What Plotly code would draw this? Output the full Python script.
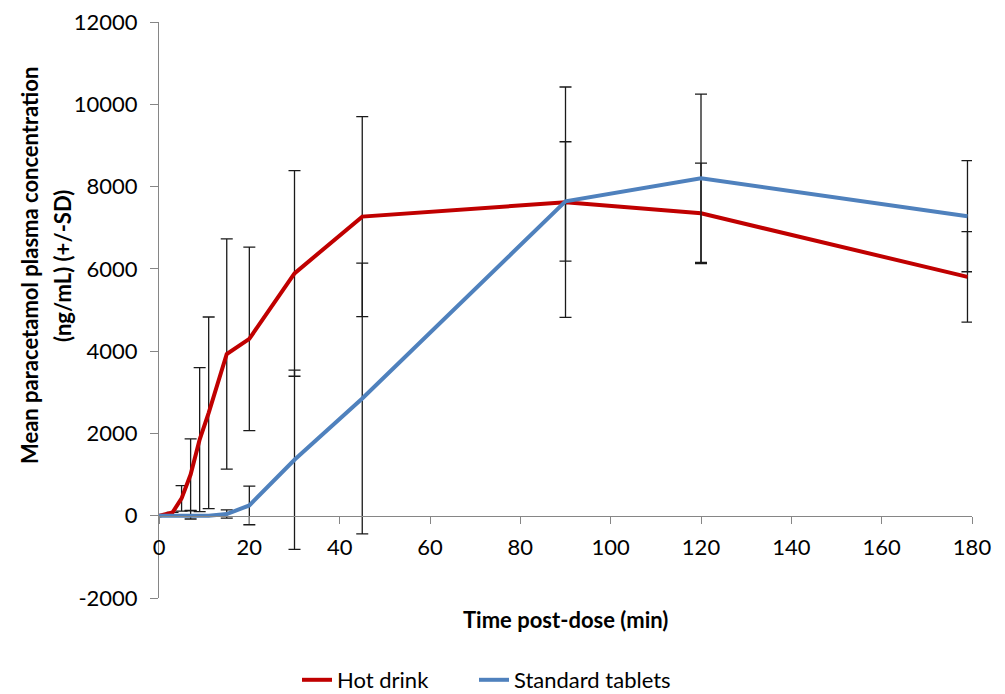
import plotly.graph_objects as go

# Data
hot_time = [0, 3, 5, 7, 9, 11, 15, 20, 30, 45, 90, 120, 179]
hot_mean = [0, 80, 420, 1000, 1850, 2500, 3930, 4300, 5890, 7270, 7620, 7350, 5805]
hot_sd = [None, None, 310, 870, 1750, 2330, 2800, 2230, 2500, 2430, 2800, 1220, 1100]

tab_time = [0, 3, 5, 7, 9, 11, 15, 20, 30, 45, 90, 120, 179]
tab_mean = [0, 0, 0, 20, 0, 0, 40, 250, 1360, 2850, 7640, 8200, 7280]
tab_sd = [None, None, None, 100, None, None, 100, 470, 2180, 3290, 1450, 2045, 1350]

x_ticks = [0, 20, 40, 60, 80, 100, 120, 140, 160, 180]
y_ticks = [-2000, 0, 2000, 4000, 6000, 8000, 10000, 12000]
y_tick_text = ["-2000", "0", "2000", "4000", "6000", "8000", "10000", "12000"]

FONT = "Lato, Carlito, 'Open Sans', sans-serif"
FS = 22

fig = go.Figure()
fig.add_trace(go.Scatter(
    x=hot_time, y=hot_mean, mode="lines", name="Hot drink", legend="legend",
    line=dict(color="#C00000", width=4),
    error_y=dict(type="data", array=hot_sd, symmetric=True, visible=True,
                 color="#1a1a1a", thickness=1.3, width=6),
))
fig.add_trace(go.Scatter(
    x=tab_time, y=tab_mean, mode="lines", name="Standard tablets", legend="legend2",
    line=dict(color="#4F81BD", width=4),
    error_y=dict(type="data", array=tab_sd, symmetric=True, visible=True,
                 color="#1a1a1a", thickness=1.3, width=6),
))

leg_common = dict(orientation="h", xanchor="left", y=(598 - 680) / 576, yanchor="middle",
                  font=dict(size=FS), bgcolor="rgba(0,0,0,0)")

fig.update_layout(
    width=1005, height=694,
    margin=dict(l=159, r=33, t=22, b=96, autoexpand=False),
    paper_bgcolor="white", plot_bgcolor="white",
    font=dict(family=FONT, size=FS, color="black"),
    showlegend=True,
    legend=dict(x=(297 - 159) / 813, **leg_common),
    legend2=dict(x=(474 - 159) / 813, **leg_common),
    xaxis=dict(range=[0, 180], tickvals=x_ticks, showgrid=False, zeroline=False,
               showline=True, linecolor="#868686", linewidth=1,
               ticks="outside", ticklen=7, tickcolor="#868686",
               anchor="free", position=2000/14000, ticklabelstandoff=5,
               automargin=False, tickfont=dict(size=FS)),
    yaxis=dict(range=[-2000, 12000], tickvals=y_ticks, ticktext=y_tick_text,
               showgrid=False, zeroline=False,
               showline=True, linecolor="#868686", linewidth=1,
               ticks="outside", ticklen=8, tickcolor="#868686", ticklabelstandoff=8,
               automargin=False, tickfont=dict(size=FS)),
    annotations=[
        dict(text="<b>Mean paracetamol plasma concentration</b>", textangle=-90,
             xref="paper", yref="paper", x=(29 - 159) / 813, y=(598 - 266) / 576,
             xanchor="center", yanchor="middle", showarrow=False,
             font=dict(size=FS, family=FONT)),
        dict(text="<b>(ng/mL) (+/-SD)</b>", textangle=-90,
             xref="paper", yref="paper", x=(62 - 159) / 813, y=(598 - 266) / 576,
             xanchor="center", yanchor="middle", showarrow=False,
             font=dict(size=FS, family=FONT)),
        dict(text="<b>Time post-dose (min)</b>",
             xref="paper", yref="paper", x=(565 - 159) / 813, y=(598 - 619) / 576,
             xanchor="center", yanchor="middle", showarrow=False,
             font=dict(size=FS, family=FONT)),
    ],
)

fig.write_html("out.html", config={"displayModeBar": False},
               post_script="document.body.style.margin='0px';document.body.style.overflow='hidden';")
